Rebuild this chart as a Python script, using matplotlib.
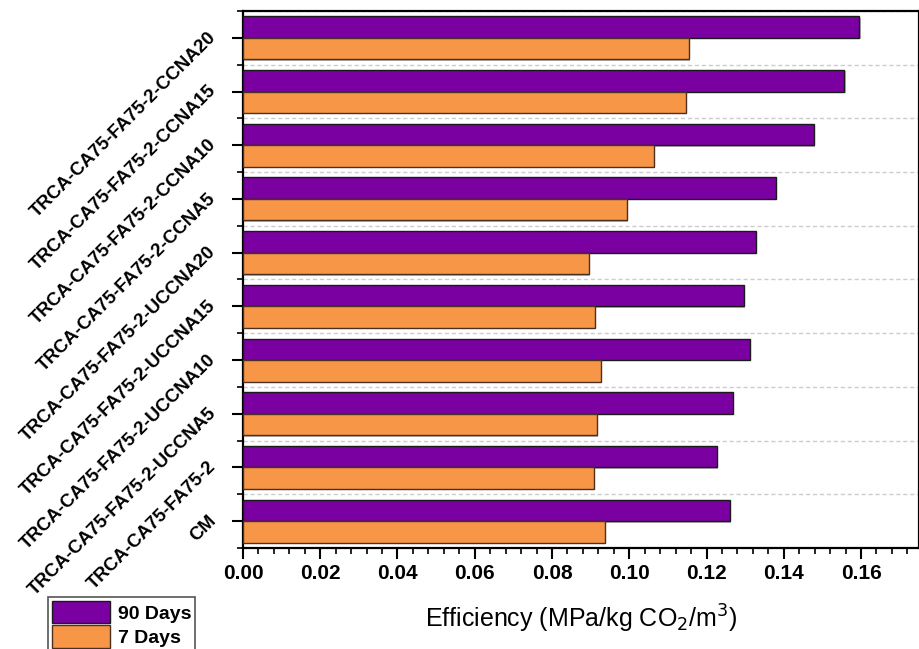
import matplotlib
matplotlib.use("Agg")
import matplotlib.pyplot as plt
import matplotlib.patheffects as pe
from matplotlib.ticker import MultipleLocator, FixedLocator
from matplotlib.patches import Patch
import numpy as np

# categories from bottom to top
mixes = [
    "CM",
    "TRCA-CA75-FA75-2",
    "TRCA-CA75-FA75-2-UCCNA5",
    "TRCA-CA75-FA75-2-UCCNA10",
    "TRCA-CA75-FA75-2-UCCNA15",
    "TRCA-CA75-FA75-2-UCCNA20",
    "TRCA-CA75-FA75-2-CCNA5",
    "TRCA-CA75-FA75-2-CCNA10",
    "TRCA-CA75-FA75-2-CCNA15",
    "TRCA-CA75-FA75-2-CCNA20",
]
eff_90d = [0.1260, 0.1226, 0.1268, 0.1312, 0.1296, 0.1327, 0.1379, 0.1477, 0.1557, 0.1596]
eff_7d = [0.0937, 0.0908, 0.0916, 0.0926, 0.0911, 0.0895, 0.0993, 0.1063, 0.1146, 0.1154]

purple = "#7b00a1"
orange = "#f79646"

plt.rcParams["font.family"] = ["Liberation Sans", "DejaVu Sans"]

fig = plt.figure(figsize=(9.2, 6.49), dpi=100)
ax = fig.add_axes([0.2641, 0.1556, 0.7348, 0.8275])

y = np.arange(len(mixes))
h = 0.4
shadow = [pe.SimplePatchShadow(offset=(1, -1), shadow_rgbFace="#888888", alpha=0.6), pe.Normal()]

b1 = ax.barh(y + h / 2, eff_90d, height=h, color=purple, edgecolor="#1a1a1a", linewidth=1.0, zorder=3)
b2 = ax.barh(y - h / 2, eff_7d, height=h, color=orange, edgecolor="#4a3020", linewidth=1.0, zorder=3)
for bar in list(b1) + list(b2):
    bar.set_path_effects(shadow)

ax.set_xlim(0, 0.175)
ax.set_ylim(-0.5, len(mixes) - 0.5)

ax.xaxis.set_major_locator(MultipleLocator(0.02))
ax.xaxis.set_minor_locator(MultipleLocator(0.004))
ax.set_yticks(y)
ax.yaxis.set_minor_locator(FixedLocator(np.arange(-0.5, len(mixes), 1.0)))

ax.grid(True, axis="y", which="minor", linestyle=(0, (3, 2)), color="#cccccc", linewidth=1.0, zorder=0)

ax.tick_params(axis="both", which="major", direction="out", length=8, width=1.5)
ax.tick_params(axis="both", which="minor", direction="out", length=4, width=1.2)
ax.tick_params(axis="y", which="major", pad=11)

ax.set_xticklabels([f"{v:.2f}" for v in ax.get_xticks()], fontsize=15, fontweight="bold")
ax.set_yticklabels(mixes, rotation=45, ha="right", va="baseline", rotation_mode="anchor",
                   fontsize=13.5, fontweight="bold")
ax.set_xlim(0, 0.175)

for s in ax.spines.values():
    s.set_linewidth(1.6)

ax.set_xlabel("Efficiency (MPa/kg CO$_2$/m$^3$)", fontsize=18, labelpad=14)

handles = [Patch(facecolor=purple, edgecolor="#1a1a1a", label="90 Days"),
           Patch(facecolor=orange, edgecolor="#4a3020", label="7 Days")]
leg = fig.legend(handles=handles, loc="lower left", bbox_to_anchor=(0.052, -0.004),
                 bbox_transform=fig.transFigure, fancybox=False, edgecolor="#555555",
                 framealpha=1, handlelength=3.0, handleheight=1.4, labelspacing=0.1,
                 borderpad=0.2, handletextpad=0.4, borderaxespad=0,
                 prop={"weight": "bold", "size": 14})
leg.get_frame().set_linewidth(1.2)

fig.savefig("out.png", dpi=100)
